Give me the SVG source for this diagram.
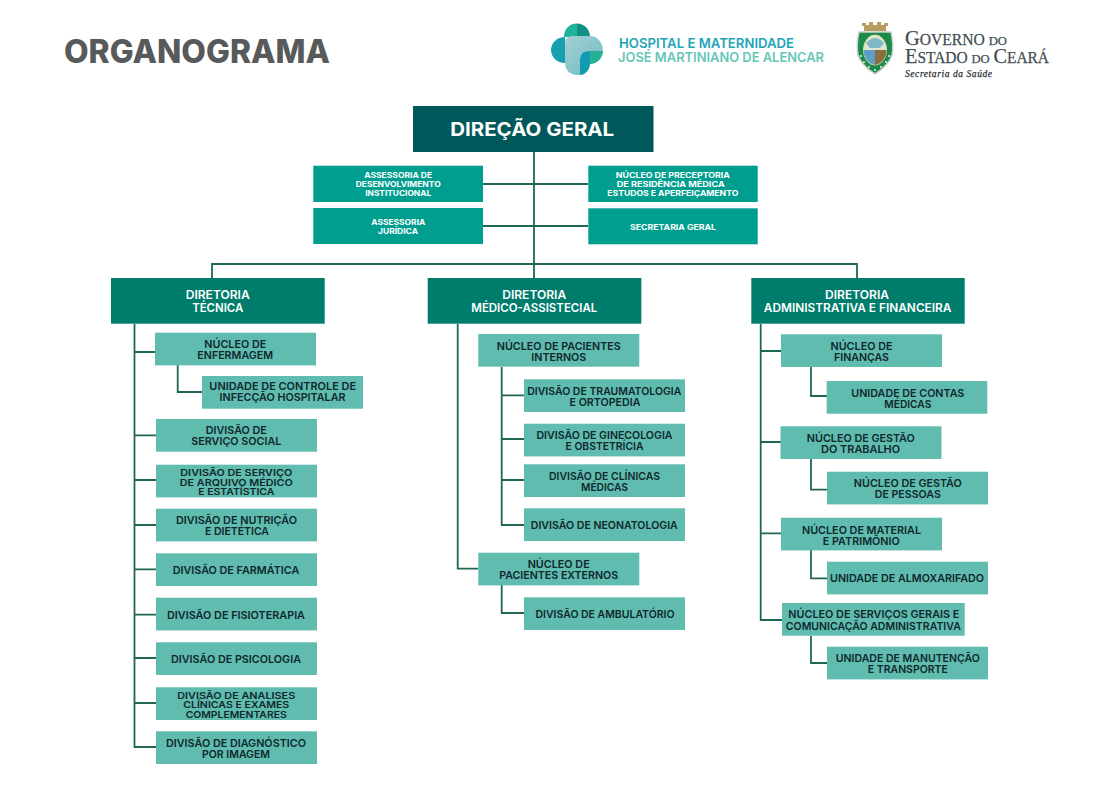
<svg xmlns="http://www.w3.org/2000/svg" width="1102" height="787" viewBox="0 0 1102 787">
<defs><linearGradient id="front" x1="0" y1="0" x2="1" y2="1"><stop offset="0" stop-color="#a4cfd2"/><stop offset="1" stop-color="#6fbcc6"/></linearGradient></defs>
<style>
text{font-family:"Inter","Liberation Sans",sans-serif;font-weight:600;text-anchor:middle}
.top{fill:#00585a}.asr{fill:#009e8f}.dir{fill:#007c6c}.box{fill:#5fbcae}
.tw{fill:#fff}.t12{font-size:12px;fill:#fff;font-weight:600}.t8{font-size:8px;fill:#fff;font-weight:700}.t11{font-size:10.6px;fill:#10282d}.t3{font-size:9.6px;fill:#10282d}
.lines path{fill:none;stroke:#1f6655;stroke-width:1.8}
.sf{font-family:"Liberation Serif",serif;font-weight:400;text-anchor:start;fill:#3f4d53;stroke:#3f4d53;stroke-width:.25}
.dot{fill:#fff}
</style>
<rect width="1102" height="787" fill="#fff"/>
<text id="title" x="197" y="63.3" font-size="32" style="font-weight:800;fill:#58595b" textLength="266" lengthAdjust="spacingAndGlyphs">ORGANOGRAMA</text>
<g id="logo-hospital">
<path d="M564 37C564 28 570 23.500 577 23.500V37Z" fill="#1fb39a"/><path d="M577 23.500C584 23.500 590 29 590 37H577Z" fill="#128f86"/>
<path d="M565 37C557 37 551 43 551 50C551 57 557 63 565 63Z" fill="#179fae"/>
<path d="M590 51H603C603 58 597 64 590 64Z" fill="#25b294"/>
<path d="M572 36H590C597 36 603 42 603 51H590C583 51 580 54 580 60V75H577C570 75 565 70 565 63V43C565 39 568 36 572 36Z" fill="url(#front)"/>
<path d="M580 60C580 54 583 51 590 51V64C590 70 585 75 580 75Z" fill="#119ab0"/>
<text x="706.500" y="47.700" font-size="13" style="fill:#1ea5b6" textLength="175" lengthAdjust="spacingAndGlyphs">HOSPITAL E MATERNIDADE</text>
<text x="721" y="61.700" font-size="13" style="fill:#66c6b6" textLength="206" lengthAdjust="spacingAndGlyphs">JOSÉ MARTINIANO DE ALENCAR</text>
</g>
<g id="logo-governo">
<path d="M864 31V26H862V23H866V25H869V22H873V25H877V22H881V25H884V23H888V26H886V31Z" fill="#b89c62"/>
<path d="M859 32H891Q894 45 892 55Q889 65 875 74Q861 65 858 55Q856 45 859 32Z" fill="#1b8a4c" stroke="#c9d2c9" stroke-width="1.500"/>
<ellipse cx="875" cy="50" rx="11.500" ry="15" fill="#dfe6cf" stroke="#e8e0a8"/>
<path d="M863.500 50H875V65C868 64 863.500 57 863.500 50Z" fill="#5f9ec4"/><path d="M875 50H886.500C886.500 57 882 64 875 65Z" fill="#8a6f3e"/>
<path d="M866 43Q875 33 884 43L880 48H870Z" fill="#7fb8c8"/>
<circle class="dot" cx="861" cy="56" r=".9"/><circle class="dot" cx="864" cy="62" r=".9"/><circle class="dot" cx="869" cy="67" r=".9"/><circle class="dot" cx="875" cy="70" r=".9"/><circle class="dot" cx="881" cy="67" r=".9"/><circle class="dot" cx="886" cy="62" r=".9"/><circle class="dot" cx="889" cy="56" r=".9"/>
<text class="sf" x="905" y="45" font-size="16" textLength="102" lengthAdjust="spacingAndGlyphs"><tspan font-size="21">G</tspan>OVERNO <tspan font-size="13">DO</tspan></text>
<text class="sf" x="905" y="63.300" font-size="16" textLength="144" lengthAdjust="spacingAndGlyphs"><tspan font-size="21">E</tspan>STADO <tspan font-size="13">DO</tspan> <tspan font-size="21">C</tspan>EARÁ</text>
<text class="sf" x="905" y="76.700" font-size="9.500" style="font-style:italic;fill:#2d3436;stroke:#2d3436" textLength="87" lengthAdjust="spacing">Secretaria da Saúde</text>
</g>
<g class="lines" id="connectors">
<path d="M534 152V278M483 184H588M483 226H588M212 278V264H857V278"/>
<path d="M134.500 324V747H156M134.500 352H155M134.500 435.300H156M134.500 480H156M134.500 525H156M134.500 569.300H156M134.500 614.700H156M134.500 658H156M134.500 703H156M177.700 365V392H202"/>
<path d="M457.700 324V568.700H478M501.700 367V525H524M501.700 395.300H524M501.700 439H524M501.700 480H524M501.700 585V613H524"/>
<path d="M760.700 324V620H782M760.700 351H781M760.700 442H781M760.700 533.300H781M811 367V396H827M811 459V489.700H827M811 550V578.300H827M811 636V663H827"/>
</g>
<g id="direcao-geral"><rect class="top" x="413" y="106" width="240.500" height="46"/><text class="tw" x="532.200" y="136" font-size="19" style="font-weight:700" textLength="164" lengthAdjust="spacingAndGlyphs">DIREÇÃO GERAL</text></g>
<g id="assessoria-desenvolvimento"><rect class="asr" x="313.300" y="165.700" width="169.700" height="36.300"/><text class="t8" x="398.200" y="178" textLength="68" lengthAdjust="spacingAndGlyphs">ASSESSORIA DE</text><text class="t8" x="398.200" y="187" textLength="85" lengthAdjust="spacingAndGlyphs">DESENVOLVIMENTO</text><text class="t8" x="398.200" y="196" textLength="66" lengthAdjust="spacingAndGlyphs">INSTITUCIONAL</text></g>
<g id="assessoria-juridica"><rect class="asr" x="313.300" y="208" width="169.700" height="36"/><text class="t8" x="398.300" y="225" textLength="54" lengthAdjust="spacingAndGlyphs">ASSESSORIA</text><text class="t8" x="398" y="234" textLength="40" lengthAdjust="spacingAndGlyphs">JURÍDICA</text></g>
<g id="nucleo-preceptoria"><rect class="asr" x="588.300" y="165.700" width="169.400" height="36.300"/><text class="t8" x="672.800" y="178" textLength="114" lengthAdjust="spacingAndGlyphs">NÚCLEO DE PRECEPTORIA</text><text class="t8" x="670.700" y="187" textLength="108" lengthAdjust="spacingAndGlyphs">DE RESIDÊNCIA MÉDICA</text><text class="t8" x="672.800" y="196" textLength="131" lengthAdjust="spacingAndGlyphs">ESTUDOS E APERFEIÇAMENTO</text></g>
<g id="secretaria-geral"><rect class="asr" x="588.300" y="208.300" width="169.400" height="36"/><text class="t8" x="673" y="229.700" textLength="86" lengthAdjust="spacingAndGlyphs">SECRETARIA GERAL</text></g>

<g id="diretoria-tecnica"><rect class="dir" x="111" y="278" width="213.700" height="45.700"/><text class="t12" x="217.700" y="299" textLength="64" lengthAdjust="spacingAndGlyphs">DIRETORIA</text><text class="t12" x="217.700" y="311.500" textLength="51" lengthAdjust="spacingAndGlyphs">TÉCNICA</text></g>
<g id="nucleo-enfermagem"><rect class="box" x="155" y="332.700" width="161" height="32.700"/><text class="t11" x="235.300" y="348.300" textLength="62" lengthAdjust="spacingAndGlyphs">NÚCLEO DE</text><text class="t11" x="235.200" y="359.300" textLength="75.700" lengthAdjust="spacingAndGlyphs">ENFERMAGEM</text></g>
<g id="unidade-infeccao"><rect class="box" x="202" y="376" width="161" height="32.700"/><text class="t11" x="282.700" y="390" textLength="146.700" lengthAdjust="spacingAndGlyphs">UNIDADE DE CONTROLE DE</text><text class="t11" x="282.500" y="401" textLength="126" lengthAdjust="spacingAndGlyphs">INFECÇÃO HOSPITALAR</text></g>
<g id="servico-social"><rect class="box" x="156" y="419" width="161" height="32.700"/><text class="t11" x="236.300" y="434" textLength="61" lengthAdjust="spacingAndGlyphs">DIVISÃO DE</text><text class="t11" x="236.300" y="445" textLength="90" lengthAdjust="spacingAndGlyphs">SERVIÇO SOCIAL</text></g>
<g id="arquivo-medico"><rect class="box" x="156" y="464.700" width="161" height="32.700"/><text class="t3" x="236.300" y="476" textLength="112" lengthAdjust="spacingAndGlyphs">DIVISÃO DE SERVIÇO</text><text class="t3" x="236.300" y="485.700" textLength="113" lengthAdjust="spacingAndGlyphs">DE ARQUIVO MÉDICO</text><text class="t3" x="236.300" y="495" textLength="76" lengthAdjust="spacingAndGlyphs">E ESTATÍSTICA</text></g>
<g id="nutricao"><rect class="box" x="156" y="508.700" width="161" height="32.700"/><text class="t11" x="236.500" y="524" textLength="121" lengthAdjust="spacingAndGlyphs">DIVISÃO DE NUTRIÇÃO</text><text class="t11" x="237" y="535" textLength="64" lengthAdjust="spacingAndGlyphs">E DIETÉTICA</text></g>
<g id="farmatica"><rect class="box" x="156" y="553.300" width="161" height="32.700"/><text class="t11" x="236" y="574.300" textLength="126.700" lengthAdjust="spacingAndGlyphs">DIVISÃO DE FARMÁTICA</text></g>
<g id="fisioterapia"><rect class="box" x="156" y="597.700" width="161" height="32.700"/><text class="t11" x="236" y="619" textLength="138" lengthAdjust="spacingAndGlyphs">DIVISÃO DE FISIOTERAPIA</text></g>
<g id="psicologia"><rect class="box" x="156" y="642.300" width="161" height="32.700"/><text class="t11" x="236" y="663.300" textLength="130" lengthAdjust="spacingAndGlyphs">DIVISÃO DE PSICOLOGIA</text></g>
<g id="analises"><rect class="box" x="156" y="687.300" width="161" height="32.700"/><text class="t3" x="236.200" y="698.700" textLength="118" lengthAdjust="spacingAndGlyphs">DIVISÃO DE ANALISES</text><text class="t3" x="236.200" y="708.300" textLength="106" lengthAdjust="spacingAndGlyphs">CLÍNICAS E EXAMES</text><text class="t3" x="236.200" y="717.700" textLength="101" lengthAdjust="spacingAndGlyphs">COMPLEMENTARES</text></g>
<g id="diagnostico"><rect class="box" x="156" y="731.300" width="161" height="32.700"/><text class="t11" x="236" y="746.700" textLength="140" lengthAdjust="spacingAndGlyphs">DIVISÃO DE DIAGNÓSTICO</text><text class="t11" x="236" y="758" textLength="68" lengthAdjust="spacingAndGlyphs">POR IMAGEM</text></g>

<g id="diretoria-medico"><rect class="dir" x="427.700" y="278" width="213.600" height="45.700"/><text class="t12" x="534.200" y="299" textLength="64" lengthAdjust="spacingAndGlyphs">DIRETORIA</text><text class="t12" x="534.300" y="311.500" textLength="126" lengthAdjust="spacingAndGlyphs">MÉDICO-ASSISTECIAL</text></g>
<g id="pacientes-internos"><rect class="box" x="478.300" y="334" width="161" height="32.700"/><text class="t11" x="558.800" y="350" textLength="124" lengthAdjust="spacingAndGlyphs">NÚCLEO DE PACIENTES</text><text class="t11" x="558.800" y="361" textLength="55" lengthAdjust="spacingAndGlyphs">INTERNOS</text></g>
<g id="traumatologia"><rect class="box" x="524" y="379.300" width="161" height="32.700"/><text class="t11" x="604.300" y="395" textLength="154" lengthAdjust="spacingAndGlyphs">DIVISÃO DE TRAUMATOLOGIA</text><text class="t11" x="605" y="406" textLength="71" lengthAdjust="spacingAndGlyphs">E ORTOPEDIA</text></g>
<g id="ginecologia"><rect class="box" x="524" y="423.700" width="161" height="32.700"/><text class="t11" x="604.500" y="439" textLength="136" lengthAdjust="spacingAndGlyphs">DIVISÃO DE GINECOLOGIA</text><text class="t11" x="604.500" y="450" textLength="78" lengthAdjust="spacingAndGlyphs">E OBSTETRÍCIA</text></g>
<g id="clinicas-medicas"><rect class="box" x="524" y="464.300" width="161" height="32.700"/><text class="t11" x="604.500" y="480" textLength="111" lengthAdjust="spacingAndGlyphs">DIVISÃO DE CLÍNICAS</text><text class="t11" x="604.500" y="491" textLength="47" lengthAdjust="spacingAndGlyphs">MÉDICAS</text></g>
<g id="neonatologia"><rect class="box" x="524" y="508.300" width="161" height="32.700"/><text class="t11" x="604.300" y="529.300" textLength="147" lengthAdjust="spacingAndGlyphs">DIVISÃO DE NEONATOLOGIA</text></g>
<g id="pacientes-externos"><rect class="box" x="478.300" y="552.700" width="161" height="32.700"/><text class="t11" x="558.700" y="568" textLength="62" lengthAdjust="spacingAndGlyphs">NÚCLEO DE</text><text class="t11" x="558.700" y="579" textLength="119" lengthAdjust="spacingAndGlyphs">PACIENTES EXTERNOS</text></g>
<g id="ambulatorio"><rect class="box" x="524" y="597.300" width="161" height="32.700"/><text class="t11" x="605" y="618.300" textLength="139" lengthAdjust="spacingAndGlyphs">DIVISÃO DE AMBULATÓRIO</text></g>

<g id="diretoria-administrativa"><rect class="dir" x="751.300" y="278" width="213.400" height="45.700"/><text class="t12" x="857" y="299" textLength="64" lengthAdjust="spacingAndGlyphs">DIRETORIA</text><text class="t12" x="857.600" y="311.500" textLength="187.700" lengthAdjust="spacingAndGlyphs">ADMINISTRATIVA E FINANCEIRA</text></g>
<g id="financas"><rect class="box" x="781" y="334.300" width="161" height="32.700"/><text class="t11" x="861.500" y="350" textLength="62" lengthAdjust="spacingAndGlyphs">NÚCLEO DE</text><text class="t11" x="861.500" y="361" textLength="55" lengthAdjust="spacingAndGlyphs">FINANÇAS</text></g>
<g id="contas-medicas"><rect class="box" x="826.700" y="381" width="160.600" height="32.700"/><text class="t11" x="907.800" y="396.700" textLength="113" lengthAdjust="spacingAndGlyphs">UNIDADE DE CONTAS</text><text class="t11" x="907.800" y="407.700" textLength="47" lengthAdjust="spacingAndGlyphs">MÉDICAS</text></g>
<g id="gestao-trabalho"><rect class="box" x="780.500" y="426.300" width="161" height="32.700"/><text class="t11" x="860.800" y="442" textLength="108" lengthAdjust="spacingAndGlyphs">NÚCLEO DE GESTÃO</text><text class="t11" x="860.600" y="453" textLength="79" lengthAdjust="spacingAndGlyphs">DO TRABALHO</text></g>
<g id="gestao-pessoas"><rect class="box" x="827" y="471.700" width="161" height="32.700"/><text class="t11" x="907.800" y="487.300" textLength="108" lengthAdjust="spacingAndGlyphs">NÚCLEO DE GESTÃO</text><text class="t11" x="907.800" y="498.300" textLength="66" lengthAdjust="spacingAndGlyphs">DE PESSOAS</text></g>
<g id="material-patrimonio"><rect class="box" x="781" y="517.700" width="161" height="32.700"/><text class="t11" x="861.500" y="533.700" textLength="119" lengthAdjust="spacingAndGlyphs">NÚCLEO DE MATERIAL</text><text class="t11" x="861.300" y="544.700" textLength="77" lengthAdjust="spacingAndGlyphs">E PATRIMÔNIO</text></g>
<g id="almoxarifado"><rect class="box" x="827" y="561.700" width="161" height="32.700"/><text class="t11" x="907" y="582" textLength="154" lengthAdjust="spacingAndGlyphs">UNIDADE DE ALMOXARIFADO</text></g>
<g id="servicos-gerais"><rect class="box" x="782" y="603" width="182.700" height="32.700"/><text class="t11" x="873.800" y="618.300" textLength="171" lengthAdjust="spacingAndGlyphs">NÚCLEO DE SERVIÇOS GERAIS E</text><text class="t11" x="873.300" y="629.700" textLength="175" lengthAdjust="spacingAndGlyphs">COMUNICAÇÃO ADMINISTRATIVA</text></g>
<g id="manutencao-transporte"><rect class="box" x="827" y="646.700" width="161" height="32.700"/><text class="t11" x="907.800" y="662" textLength="144" lengthAdjust="spacingAndGlyphs">UNIDADE DE MANUTENÇÃO</text><text class="t11" x="907.800" y="673" textLength="80" lengthAdjust="spacingAndGlyphs">E TRANSPORTE</text></g>
</svg>
